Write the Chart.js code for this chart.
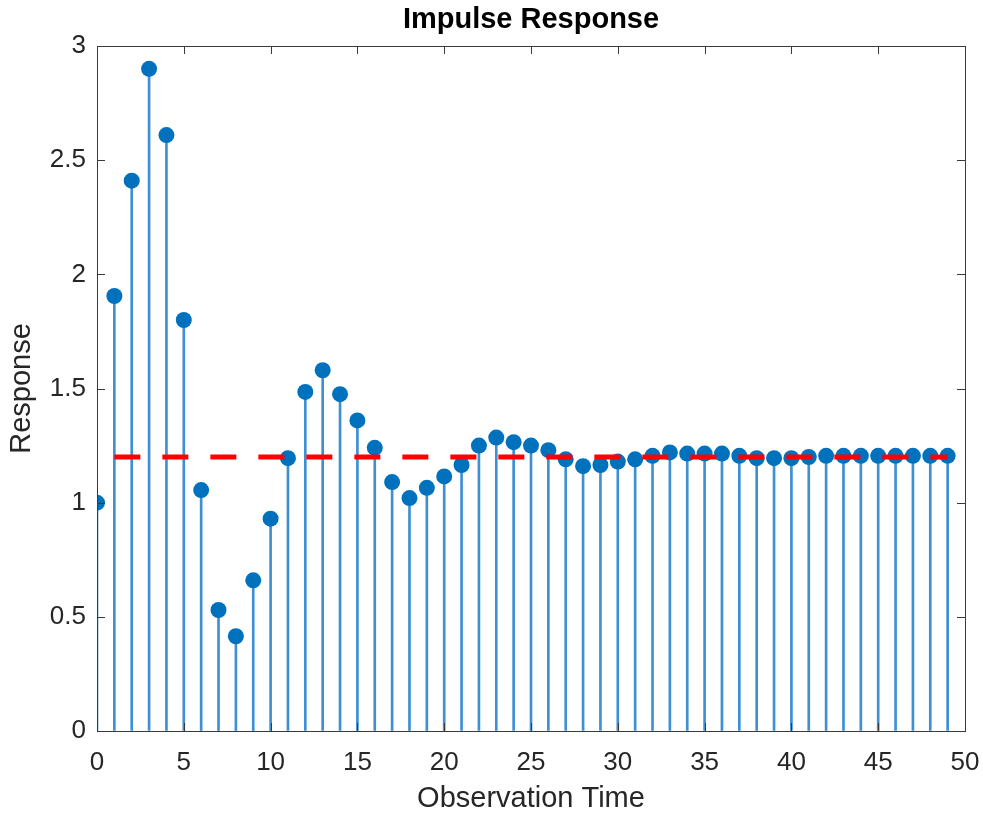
<!DOCTYPE html>
<html>
<head>
<meta charset="utf-8">
<script src="https://cdn.jsdelivr.net/npm/chart.js@4/dist/chart.umd.min.js"></script>
<style>
html,body{margin:0;padding:0;background:#fff;}
#wrap{width:983px;height:816px;}
</style>
</head>
<body>
<div id="wrap"><canvas id="c" width="983" height="816"></canvas></div>
<script>
const times = [0,1,2,3,4,5,6,7,8,9,10,11,12,13,14,15,16,17,18,19,20,21,22,23,24,25,26,27,28,29,30,31,32,33,34,35,36,37,38,39,40,41,42,43,44,45,46,47,48,49];
const responses = [1.00,1.905,2.41,2.90,2.61,1.80,1.055,0.53,0.415,0.66,0.93,1.195,1.485,1.58,1.475,1.36,1.24,1.09,1.02,1.065,1.115,1.165,1.25,1.285,1.265,1.25,1.23,1.19,1.16,1.165,1.18,1.19,1.205,1.22,1.215,1.215,1.215,1.205,1.195,1.195,1.195,1.20,1.205,1.205,1.205,1.205,1.205,1.205,1.205,1.205];
const meanLevel = 1.2;
const meanSpan = [1,49];
const xTicks = [0,5,10,15,20,25,30,35,40,45,50];
const yTicks = [0,0.5,1,1.5,2,2.5,3];

const pts = times.map((t,i)=>({x:t,y:responses[i]}));
const meanPts = meanSpan.map(t=>({x:t,y:meanLevel}));

const font = 'Arial, "Liberation Sans", Helvetica, sans-serif';
const axisColor = '#262626';

const boxPlugin = {
  id:'box',
  afterDraw(chart){
    const ctx = chart.ctx, a = chart.chartArea;
    const xs = chart.scales.x, ys = chart.scales.y;
    ctx.save();
    ctx.strokeStyle = '#3a3a3a';
    ctx.lineWidth = 1;
    ctx.strokeRect(Math.round(a.left)+0.5, Math.round(a.top)+0.5, Math.round(a.right-a.left), Math.round(a.bottom-a.top));
    const L = 8;
    ctx.beginPath();
    xTicks.forEach(v=>{
      const px = Math.round(xs.getPixelForValue(v))+0.5;
      ctx.moveTo(px,a.bottom); ctx.lineTo(px,a.bottom-L);
      ctx.moveTo(px,a.top); ctx.lineTo(px,a.top+L);
    });
    yTicks.forEach(v=>{
      const py = Math.round(ys.getPixelForValue(v))+0.5;
      ctx.moveTo(a.left,py); ctx.lineTo(a.left+L,py);
      ctx.moveTo(a.right,py); ctx.lineTo(a.right-L,py);
    });
    ctx.stroke();
    ctx.restore();
  }
};

function noPad(s){ s.paddingLeft = 0; s.paddingRight = 0; s.paddingTop = 0; s.paddingBottom = 0; }

new Chart(document.getElementById('c'), {
  type:'scatter',
  data:{
    datasets:[
      {type:'bar', data:pts, backgroundColor:'#3f8fd3', barThickness:2, order:3},
      {type:'scatter', data:pts, pointRadius:8, pointBackgroundColor:'#0072BD', pointBorderWidth:0, pointBorderColor:'#0072BD', order:2},
      {type:'line', data:meanPts, borderColor:'#ff0000', borderWidth:5, borderDash:[26,22], pointRadius:0, fill:false, order:1}
    ]
  },
  options:{
    responsive:false,
    animation:false,
    events:[],
    layout:{padding:{left:0,right:18,top:0,bottom:0}},
    plugins:{
      legend:{display:false},
      tooltip:{enabled:false},
      title:{display:true, fullSize:false, text:'Impulse Response', color:'#000', font:{family:font, size:29, weight:'bold', lineHeight:1.2}, padding:{top:2.6,bottom:8.6}}
    },
    scales:{
      x:{
        type:'linear', min:0, max:50, offset:false,
        afterFit(s){ s.height = 85; noPad(s); },
        afterBuildTicks(s){ s.ticks = xTicks.map(v=>({value:v})); },
        grid:{display:true, drawOnChartArea:false, drawTicks:false, offset:false},
        border:{display:false},
        ticks:{color:axisColor, font:{family:font, size:26}, padding:16, maxRotation:0, callback:v=>String(v)},
        title:{display:true, text:'Observation Time', color:axisColor, font:{family:font, size:29, lineHeight:1.2}, padding:{top:0,bottom:0}}
      },
      y:{
        type:'linear', min:0, max:3,
        afterFit(s){ s.width = 97; noPad(s); },
        afterBuildTicks(s){ s.ticks = yTicks.map(v=>({value:v})); },
        grid:{display:true, drawOnChartArea:false, drawTicks:false},
        border:{display:false},
        ticks:{color:axisColor, font:{family:font, size:26}, padding:11, callback:v=>String(v)},
        title:{display:true, text:'Response', color:axisColor, font:{family:font, size:29, lineHeight:1.2}, padding:{top:4.6,bottom:0}}
      }
    }
  },
  plugins:[boxPlugin]
});
</script>
</body>
</html>
